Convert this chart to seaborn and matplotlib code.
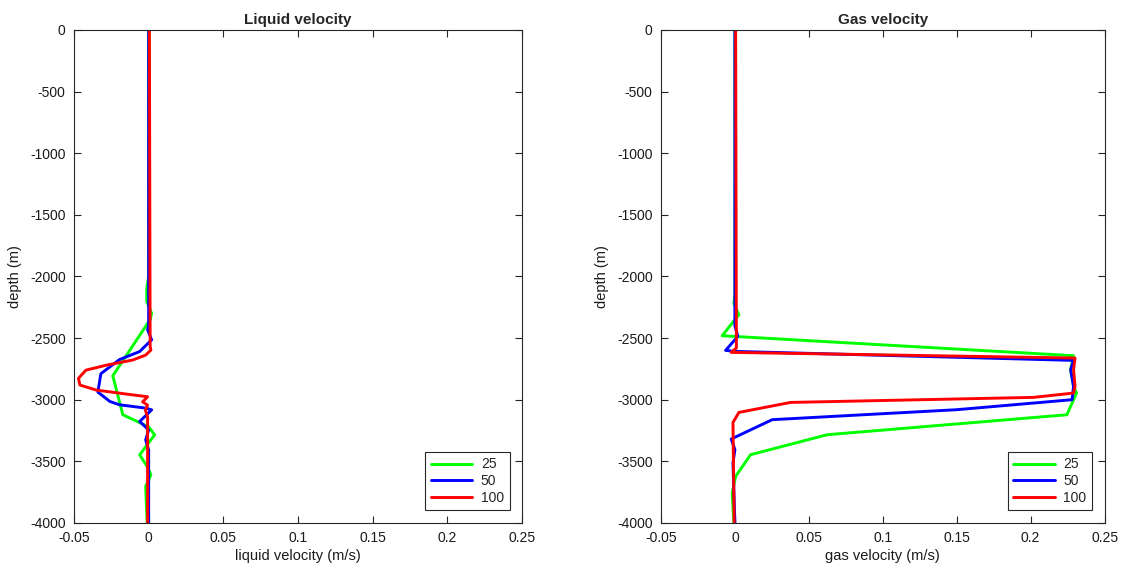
import matplotlib
matplotlib.use("Agg")
import matplotlib.pyplot as plt
import seaborn as sns
import pandas as pd
import numpy as np

# ---- data ----
series_labels = ["25", "50", "100"]
series_colors = ["#00ff00", "#0000ff", "#ff0000"]

liq_depth_25 = [0, 2000, 2100, 2200, 2300, 2350, 2806, 3122, 3220, 3285, 3447, 3542, 3609, 3704, 4000]
liq_vel_25 = [0, 0, -0.0013, -0.0013, 0.002, 0.001, -0.024, -0.0173, 0, 0.004, -0.006, -0.001, 0.0015, -0.002, -0.001]

liq_depth_50 = [0, 2400, 2433, 2514, 2609, 2675, 2789, 2938, 3014, 3041, 3068, 3082, 3177, 3245, 3326, 3407, 4000]
liq_vel_50 = [0, 0, -0.0007, 0.002, -0.006, -0.0196, -0.032, -0.034, -0.026, -0.0196, -0.002, 0.002, -0.006, 0, -0.002, 0, 0]

liq_depth_100 = [0, 2570, 2597, 2638, 2678, 2719, 2760, 2827, 2881, 2922, 2954, 2976, 3017, 3044, 3084, 3140, 4000]
liq_vel_100 = [0.0005, 0.001, 0.0015, -0.002, -0.0107, -0.028, -0.042, -0.047, -0.046, -0.035, -0.015, -0.0007, -0.004, -0.0007, -0.0022, -0.0007, -0.0007]

gas_depth_25 = [0, 2150, 2220, 2311, 2351, 2481, 2643, 2757, 2892, 2946, 3122, 3284, 3446, 3622, 3757, 4000]
gas_vel_25 = [0, 0, -0.0007, 0.0027, 0, -0.0086, 0.229, 0.227, 0.229, 0.231, 0.2245, 0.0624, 0.0106, 0.0005, -0.0018, -0.0007]

gas_depth_50 = [0, 2400, 2486, 2600, 2608, 2681, 2757, 2892, 3000, 3081, 3162, 3319, 3405, 3514, 4000]
gas_vel_50 = [0, 0, 0.002, -0.0063, 0, 0.229, 0.227, 0.229, 0.228, 0.150, 0.0252, -0.0025, 0, -0.0013, 0]

gas_depth_100 = [0, 2580, 2616, 2662, 2757, 2892, 2946, 2981, 3022, 3103, 3184, 4000]
gas_vel_100 = [0.0005, 0.001, -0.0025, 0.230, 0.229, 0.230, 0.229, 0.202, 0.0376, 0.0027, -0.0013, -0.0005]

x_ticks = [-0.05, 0, 0.05, 0.1, 0.15, 0.2, 0.25]
x_tick_labels = ["-0.05", "0", "0.05", "0.1", "0.15", "0.2", "0.25"]
y_ticks = [0, -500, -1000, -1500, -2000, -2500, -3000, -3500, -4000]
y_tick_labels = ["0", "-500", "-1000", "-1500", "-2000", "-2500", "-3000", "-3500", "-4000"]


def make_df(depths, vels):
    rows = []
    for lab, d, v in zip(series_labels, depths, vels):
        for i, (dd, vv) in enumerate(zip(d, v)):
            rows.append({"series": lab, "depth": -dd, "vel": vv, "order": i})
    return pd.DataFrame(rows)


liq_df = make_df([liq_depth_25, liq_depth_50, liq_depth_100], [liq_vel_25, liq_vel_50, liq_vel_100])
gas_df = make_df([gas_depth_25, gas_depth_50, gas_depth_100], [gas_vel_25, gas_vel_50, gas_vel_100])

sns.set_theme(style="white")
plt.rcParams["font.family"] = ["Liberation Sans", "DejaVu Sans"]
plt.rcParams["font.size"] = 10

fig = plt.figure(figsize=(11.26, 5.72), dpi=100)
ax1 = fig.add_axes([0.0657, 0.0857, 0.3979, 0.862])
ax2 = fig.add_axes([0.587, 0.0857, 0.394, 0.862])

palette = dict(zip(series_labels, series_colors))
edge = "#262626"

for ax, df, title, xlabel in [
    (ax1, liq_df, "Liquid velocity", "liquid velocity (m/s)"),
    (ax2, gas_df, "Gas velocity", "gas velocity (m/s)"),
]:
    sns.lineplot(data=df, x="vel", y="depth", hue="series", hue_order=series_labels,
                 palette=palette, sort=False, estimator=None, linewidth=2.1,
                 solid_joinstyle="round", ax=ax)
    ax.set_xlim(-0.05, 0.25)
    ax.set_ylim(-4000, 0)
    ax.set_xticks(x_ticks)
    ax.set_xticklabels(x_tick_labels)
    ax.set_yticks(y_ticks)
    ax.set_yticklabels(y_tick_labels)
    ax.tick_params(direction="in", length=5, width=0.8, colors=edge, labelcolor="#1a1a1a",
                   labelsize=10, top=True, right=True, bottom=True, left=True, pad=6)
    for s in ax.spines.values():
        s.set_color(edge)
        s.set_linewidth(0.8)
        s.set_visible(True)
    ax.set_title(title, fontsize=11, fontweight="bold", pad=4)
    ax.set_xlabel(xlabel, fontsize=10.5, color="#1a1a1a", labelpad=3)
    ax.set_ylabel("depth (m)", fontsize=10.5, color="#1a1a1a", labelpad=6)
    leg = ax.legend(loc="lower right", frameon=True, fancybox=False, fontsize=10,
                    handlelength=3.0, borderaxespad=0.9, labelspacing=0.2,
                    borderpad=0.4, handletextpad=0.6)
    leg.get_frame().set_edgecolor(edge)
    leg.get_frame().set_linewidth(0.8)
    leg.get_frame().set_alpha(1)
    for line in leg.get_lines():
        line.set_linewidth(2.1)

fig.savefig("out.png", dpi=100)
